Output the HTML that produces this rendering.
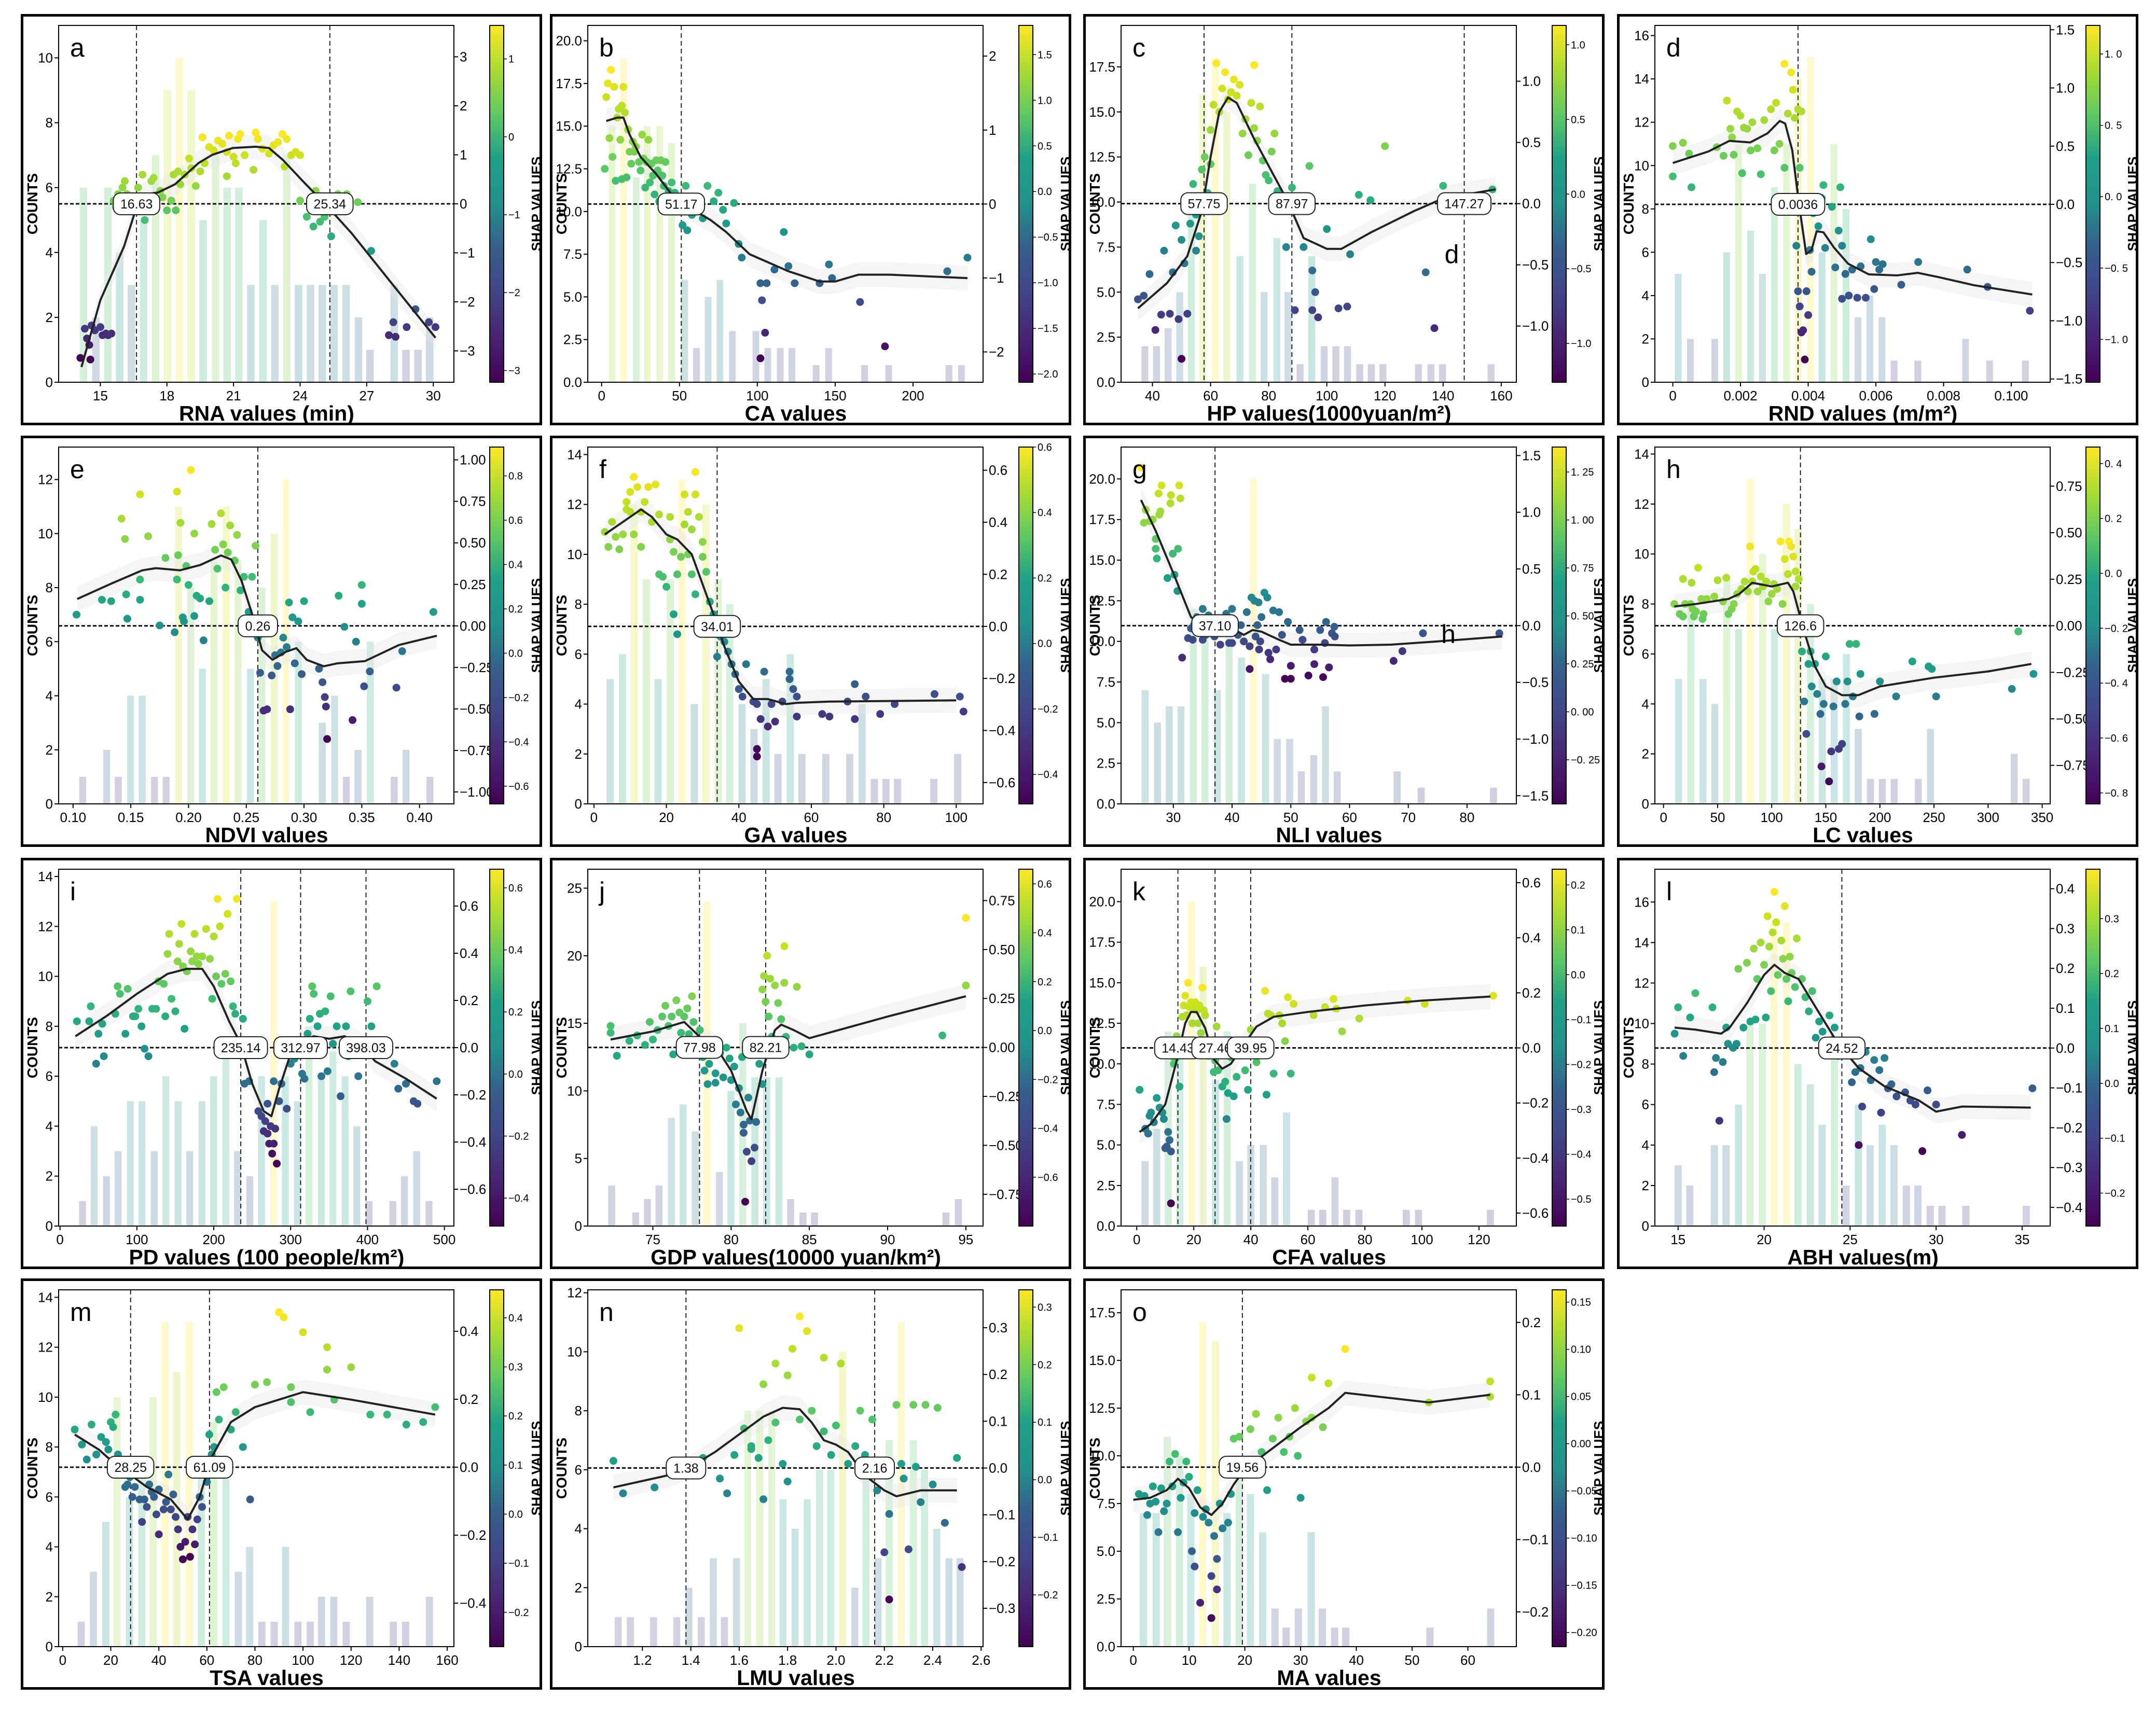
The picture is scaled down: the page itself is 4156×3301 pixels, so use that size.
<!DOCTYPE html>
<html><head><meta charset="utf-8">
<style>
html,body{margin:0;padding:0;background:#fff;}
svg{display:block;font-family:"Liberation Sans",sans-serif;}
</style></head>
<body>
<svg id="fig" width="4156" height="3301" viewBox="0 0 4156 3301" xmlns="http://www.w3.org/2000/svg">
<defs>
<linearGradient id="vir" x1="0" y1="1" x2="0" y2="0">
<stop offset="0" stop-color="#440154"/><stop offset="0.13" stop-color="#482475"/><stop offset="0.25" stop-color="#414487"/><stop offset="0.38" stop-color="#355f8d"/><stop offset="0.5" stop-color="#21918c"/><stop offset="0.63" stop-color="#1fa187"/><stop offset="0.75" stop-color="#5ec962"/><stop offset="0.88" stop-color="#addc30"/><stop offset="1" stop-color="#fde725"/>
</linearGradient>
</defs>
</svg>
<script>
// ---------- data (counts scale for bars; dependence points & loess curve on counts-scaled axis) ----------
const barsA=[[14.24,6],[14.8,2],[15.34,6],[15.87,4],[16.4,3],[16.95,5],[17.49,7],[18.02,9],[18.56,10],[19.09,9],[19.63,5],[20.19,7],[20.71,6],[21.24,6],[21.78,3],[22.33,5],[22.86,3],[23.4,7],[23.93,3],[24.47,3],[25.0,3],[25.53,3],[26.07,3],[26.63,2],[27.15,1],[28.24,3],[28.77,1],[29.31,1],[29.84,2]];
const curveA=[[14.15,0.47],[15,2.53],[16.07,4.19],[16.8,5.77],[17.6,5.85],[18.36,6.1],[19.43,6.76],[20.04,7.01],[20.96,7.22],[22.0,7.26],[22.6,7.22],[23.23,6.85],[24.15,6.18],[25.2,5.44],[26.3,4.61],[27.95,3.2],[30.1,1.37]];
const ptsA=[[14.1,0.75],[14.3,1.65],[14.4,1.35],[14.5,1.15],[14.6,1.75],[14.75,1.6],[14.55,0.7],[15.0,1.7],[15.1,1.45],[15.25,1.5],[15.35,1.45],[15.5,1.5],[15.6,5.6],[15.7,5.4],[15.8,5.8],[16.0,6.0],[16.1,6.2],[16.2,5.8],[16.7,6.0],[16.9,6.4],[17.0,5.0],[17.3,6.2],[17.4,6.3],[17.7,5.9],[17.8,5.7],[18.0,5.3],[18.2,5.6],[18.3,6.4],[18.5,6.5],[18.6,6.1],[18.8,6.4],[19.0,6.9],[19.1,6.6],[19.3,6.05],[18.4,5.3],[19.5,6.5],[19.7,6.75],[19.6,7.55],[19.9,7.25],[20.1,7.15],[20.3,7.45],[20.5,7.35],[20.7,7.1],[20.8,7.6],[20.7,6.35],[21.0,6.95],[21.2,7.5],[21.3,7.65],[21.1,6.75],[21.5,7.0],[21.9,6.55],[22.0,7.7],[22.1,7.5],[22.3,7.2],[22.6,7.05],[22.8,7.3],[23.0,7.4],[23.2,7.65],[23.3,6.65],[23.4,7.5],[23.6,7.0],[23.8,7.1],[24.0,7.0],[24.0,5.6],[24.3,5.1],[24.6,4.8],[24.7,5.9],[24.9,4.95],[25.1,5.1],[25.4,4.5],[25.7,5.8],[26.1,5.8],[26.1,5.3],[26.6,5.55],[27.2,4.05],[28.0,1.45],[28.2,1.85],[28.3,1.4],[28.8,1.7],[29.2,2.25],[29.8,1.85],[30.1,1.7]];
const thrA=[16.63,25.34];

const barsB=[[6.7,15],[14.2,19],[22.2,12],[29.3,15],[37.3,15],[44.9,14],[53.3,6],[60.9,2],[68.4,5],[76,6],[84,3],[99.1,3],[106.7,2],[114.7,2],[122.2,2],[137.8,1],[145.8,2],[168.9,1],[184.4,1],[223.1,1],[231.1,1]];
const curveB=[[3,15.3],[10,15.5],[14,15.5],[18,14.5],[25,13.2],[35,12.2],[45,11],[55,10.3],[70,9.5],[80,8.8],[95,7.5],[120,6.5],[140,5.9],[150,5.9],[165,6.3],[185,6.3],[235,6.1]];
const ptsB=[[2,12.5],[3,16.7],[4,17.5],[5,14.3],[6,18.3],[7,13.2],[8,17.3],[9,11.8],[10,15.5],[11,16],[12,14.2],[13,16.2],[14,17.3],[13,11.9],[15,15.8],[16,12.0],[17,14.8],[18,13.5],[19,12.8],[20,14.1],[21,13.5],[22,13.8],[24,12.9],[25,12.4],[26,14.5],[27,13.1],[28,11.4],[29,12.9],[30,14.2],[31,11.7],[32,12.8],[33,12.1],[34,11],[35,13],[36,12.4],[37,10.6],[38,13.0],[39,12.1],[40,11.5],[41,12.9],[43,11.2],[45,11.7],[47,11.1],[50,10.0],[52,9.2],[54,11.5],[55,8.9],[58,9.8],[60,10.8],[65,9.6],[68,11.5],[72,10.6],[75,11.1],[78,10.1],[80,9.3],[85,10.5],[88,8.1],[90,7.3],[102,5.8],[103,4.8],[106,5.8],[105,2.9],[102,1.4],[111,6.6],[117,8.8],[120,6.8],[124,5.8],[140,5.8],[146,6.9],[148,6.1],[166,4.7],[182,2.1],[222,6.5],[235,7.3]];
const thrB=[51.17];

const barsC=[[37.4,2],[41.4,2],[45.4,3],[49.4,5],[53.4,10],[57.4,16],[61.6,18],[65.6,15],[70.1,7],[74.4,11],[78.4,5],[82.8,8],[86.6,5],[90.8,1],[94.8,7],[99.1,2],[103.1,2],[107.1,2],[111.3,1],[115.3,1],[119.3,1],[131.5,1],[135.8,1],[139.8,1],[156.5,1]];
const curveC=[[35,4.1],[45,5.5],[52,7],[57,9.5],[60,12.5],[63,15],[66,15.8],[69,15.5],[75,13.5],[80,12],[85,10.5],[88,9.5],[92,8],[100,7.4],[105,7.4],[115,8.3],[130,9.5],[140,10.2],[158,10.7]];
const ptsC=[[35,4.6],[37,4.8],[39,6],[41,2.9],[43,3.75],[44,7.3],[46,3.8],[48,8.7],[47,6.1],[49,3.5],[50,1.3],[50,7.9],[51,6.6],[52,3.8],[53,8.8],[54,11],[55,9.3],[55,7.3],[56,8.1],[57,11.8],[58,12.5],[59,10.5],[60,12.1],[60,14],[61,15.4],[62,17.7],[63,15],[64,16.3],[65,17.2],[66,15.7],[67,16.1],[68,16.8],[69,15.9],[70,16.5],[71,13.8],[72,14.6],[73,12.6],[74,15.5],[75,14.1],[75,17.6],[76,13.4],[77,15.3],[78,12.3],[79,11.5],[80,11.2],[81,12.8],[82,13.8],[83,10.6],[85,9.8],[86,7.5],[88,10.8],[89,10.1],[89,4.0],[92,7.5],[95,6.2],[95,4.0],[96,5.0],[97,3.6],[100,8.5],[104,4.1],[107,4.2],[108,7.1],[111,10.4],[115,10.1],[120,13.1],[134,6.1],[137,3.0],[140,10.9],[157,10.7],[94,12.0]];
const thrC=[57.75,87.97,147.27];

const barsD=[[0.16,5],[0.52,2],[1.24,2],[1.59,6],[1.94,11],[2.3,7],[2.65,5],[3.0,9],[3.36,11],[3.71,14],[4.06,15],[4.41,6],[4.76,11],[5.12,8],[5.47,3],[5.82,4],[6.18,3],[6.54,1],[7.24,1],[8.65,2],[9.36,1],[10.42,1]];
const curveD=[[0,10.12],[1.05,10.65],[1.67,11.14],[2.29,11.07],[2.8,11.49],[3.16,12.06],[3.32,11.94],[3.53,10.7],[3.73,8.21],[3.94,5.92],[4.1,6.1],[4.25,6.97],[4.45,6.92],[4.76,6.22],[5.18,5.47],[5.79,4.98],[6.62,4.93],[7.24,5.05],[7.86,4.85],[8.89,4.48],[10.62,4.05]];
const ptsD=[[0,10.9],[0,9.5],[0.3,11.05],[0.55,9.0],[0.48,10.55],[1.3,10.85],[1.5,10.45],[1.6,13],[1.7,11.7],[1.75,11.3],[1.8,10.5],[1.9,12.5],[2.0,12.3],[2.05,9.65],[2.1,11.75],[2.2,11.7],[2.3,10.7],[2.35,12.0],[2.5,10.8],[2.6,9.6],[2.7,12.1],[2.9,12.6],[3.0,10.7],[3.05,12.9],[3.15,11],[3.3,14.7],[3.4,12.4],[3.3,9.9],[3.5,14.3],[3.55,13.5],[3.6,12.2],[3.7,12.6],[3.75,9.9],[3.8,12.5],[3.8,8.0],[3.65,6.3],[3.7,4.2],[3.75,3.5],[3.8,2.3],[3.85,2.4],[3.9,1.05],[3.95,4.2],[4.0,3.1],[4.05,6.1],[4.1,5.1],[4.15,7.8],[4.3,7.2],[4.4,8.5],[4.45,9.1],[4.5,6.2],[4.7,8.1],[4.8,5.3],[4.9,7.0],[4.95,9.0],[5.0,6.3],[5.0,3.85],[5.1,5.0],[5.2,4.0],[5.3,5.2],[5.45,3.9],[5.55,5.35],[5.7,3.9],[5.85,6.6],[6.0,5.55],[5.95,4.3],[6.1,5.2],[6.2,5.45],[6.75,4.5],[7.25,5.55],[8.7,5.2],[9.3,4.4],[10.55,3.3]];
const thrD=[3.7];

const barsE=[[0.1083,1],[0.1291,2],[0.1392,1],[0.1498,4],[0.1599,4],[0.1705,1],[0.1806,1],[0.1913,11],[0.2019,8],[0.212,5],[0.2221,9],[0.2328,11],[0.2429,9],[0.2535,5],[0.2636,8],[0.2743,10],[0.2844,12],[0.2951,6],[0.3158,3],[0.3265,4],[0.3366,1],[0.3467,2],[0.3574,6],[0.3781,1],[0.3883,2],[0.409,1]];
const curveE=[[0.1036,7.58],[0.1332,8.15],[0.1599,8.64],[0.1717,8.72],[0.1925,8.64],[0.2103,8.84],[0.2281,9.19],[0.237,9.04],[0.2459,8.25],[0.2548,7.06],[0.2637,5.68],[0.2727,5.33],[0.2845,5.63],[0.2934,5.76],[0.3023,5.33],[0.3171,5.09],[0.329,5.2],[0.3527,5.28],[0.3824,5.88],[0.415,6.22]];
const ptsE=[[0.103,7.0],[0.125,7.55],[0.133,7.5],[0.142,10.55],[0.145,9.8],[0.146,7.75],[0.147,6.85],[0.158,11.45],[0.158,8.3],[0.158,7.55],[0.165,9.9],[0.175,6.6],[0.18,9.1],[0.188,6.35],[0.19,8.3],[0.19,11.55],[0.191,9.2],[0.193,10.4],[0.195,6.9],[0.196,6.75],[0.198,8.8],[0.2,8.1],[0.202,12.35],[0.205,6.95],[0.205,10.0],[0.207,7.7],[0.21,7.6],[0.213,6.05],[0.218,7.5],[0.22,10.35],[0.223,9.4],[0.225,8.7],[0.228,10.75],[0.23,9.6],[0.232,8.0],[0.234,9.3],[0.236,10.3],[0.24,9.0],[0.242,9.95],[0.245,7.9],[0.248,8.4],[0.252,7.1],[0.255,8.4],[0.258,9.55],[0.26,6.15],[0.262,4.85],[0.265,3.45],[0.27,6.5],[0.272,4.75],[0.275,5.5],[0.277,5.1],[0.28,5.6],[0.282,6.15],[0.285,5.8],[0.287,7.45],[0.29,6.9],[0.292,5.2],[0.295,6.75],[0.298,4.8],[0.3,7.5],[0.313,5.0],[0.316,4.5],[0.318,3.95],[0.319,3.6],[0.32,2.4],[0.33,7.7],[0.335,6.55],[0.342,3.1],[0.345,6.0],[0.35,8.1],[0.35,7.4],[0.352,4.35],[0.357,4.9],[0.38,4.3],[0.385,5.65],[0.412,7.1],[0.288,3.5],[0.268,3.5]];
const thrE=[0.26];

const barsF=[[4.5,5],[7.9,6],[11.1,12],[14.5,9],[17.7,5],[21.1,9],[24.3,13],[27.7,4],[30.9,12],[34.3,9],[37.5,8],[40.9,4],[44.2,3],[47.5,5],[50.8,2],[54.2,6],[57.4,2],[64,2],[70.6,2],[74,4],[77.4,1],[80.6,1],[83.8,1],[93.8,1],[100.4,2]];
const curveF=[[3,10.8],[8,11.3],[13,11.8],[16,11.5],[20,10.8],[23,10.6],[27,10],[30,8.8],[33,7.6],[36,6.3],[40,4.9],[44,4.2],[48,4.2],[53,4.0],[56,4.05],[65,4.1],[100,4.15]];
const ptsF=[[3,10.9],[4,10.3],[5,11.3],[6,10.7],[7,10.2],[8,10.8],[9,11.8],[9,12.1],[10,12.5],[10,11.7],[11,10.8],[11,13.1],[12,12.7],[13,10.3],[13,11.7],[14,12.1],[15,12.7],[16,11.3],[17,12.8],[18,11.6],[18,9.2],[19,9.1],[20,8.7],[21,10.6],[21,11.5],[22,10.1],[22,7.6],[23,6.8],[23,9.2],[24,9.9],[25,11.2],[25,12.4],[26,11.7],[26,10.0],[27,9.2],[27,11.0],[28,8.4],[28,13.3],[28,12.4],[29,11.5],[30,10.5],[30,9.9],[31,9.3],[32,8.1],[33,7.6],[34,5.9],[35,6.7],[36,6.5],[37,6.1],[38,5.6],[39,5.2],[40,4.6],[41,4.3],[42,5.6],[44,4.1],[45,4.0],[46,3.4],[47,5.3],[48,3.1],[49,4.0],[50,3.3],[52,4.1],[54,5.0],[54,5.3],[55,4.6],[56,4.3],[56,3.5],[63,3.6],[65,3.5],[70,4.1],[72,3.4],[72,4.8],[75,4.3],[79,3.6],[83,4.0],[94,4.4],[101,4.3],[102,3.7],[45,1.9],[45,2.2]];
const thrF=[34.01];

const barsG=[[25.2,7],[27.3,5],[29.3,6],[31.3,6],[33.4,12],[35.4,12],[37.5,7],[39.5,12],[41.6,9],[43.6,20],[45.7,8],[47.7,4],[49.8,4],[51.8,2],[53.9,3],[55.9,6],[57.9,2],[68.1,2],[72.2,1],[84.5,1]];
const curveG=[[24.5,18.7],[27,16.8],[30,14.2],[33,11.5],[34,11.2],[37,11.1],[40,10.8],[42,10.4],[43.5,10.7],[45,10.6],[48,10.1],[50,9.8],[55,9.8],[60,9.75],[67,9.8],[75,10.0],[86,10.3]];
const ptsG=[[24.5,20.7],[25,17.3],[25.3,18.1],[26,17.4],[26.5,17.5],[27,16.3],[27,15.7],[27.2,15.1],[27.5,19.1],[27.6,17.8],[27.8,18.0],[28,19.6],[29,13.9],[29.5,18.5],[29.6,19.0],[29.9,15.4],[30.2,14.1],[30.7,13.1],[30.8,15.7],[31,19.6],[31.2,18.8],[31.5,9.0],[32.5,10.2],[33,10.8],[33.3,10.1],[33.5,11.0],[34,11.5],[34.5,11.2],[35,12.0],[35,10.1],[35.5,10.4],[36,11.6],[36.2,11.4],[37,10.3],[37.5,11.4],[38,11.1],[38,9.8],[39,11.7],[39.5,9.9],[40,9.9],[40,12.0],[41,10.4],[41.5,11.0],[42,10.0],[42.5,11.8],[43,9.7],[43,8.3],[43.3,12.7],[43.8,12.5],[44,10.3],[44.3,11.0],[44.5,12.4],[44.6,9.5],[44.8,10.0],[45,11.5],[45.5,13.0],[46,12.7],[46.2,9.3],[46.5,8.9],[47,11.9],[47.5,9.5],[48,11.8],[48.5,10.4],[49,7.7],[49.5,11.2],[50,8.5],[50,7.7],[51.5,10.7],[52,10.1],[53,7.9],[54,9.5],[54,8.6],[55,10.7],[55.5,7.8],[55.8,9.9],[56,11.2],[56.5,8.4],[57,10.5],[57.4,10.9],[57.5,10.3],[67.5,8.8],[69,9.4],[72.5,10.5],[85.5,10.5]];
const thrG=[37.10];

const barsH=[[13.9,5],[25.2,8],[36.5,5],[47.4,4],[58.4,9],[69.4,7],[80.3,13],[91.6,10],[102.6,7],[113.5,12],[124.5,11],[135.8,8],[146.8,5],[157.7,5],[169,6],[180,3],[191.3,1],[202.3,1],[213.2,1],[235.5,1],[246.8,3],[324.2,2],[335.2,1]];
const curveH=[[10,7.9],[30,8.0],[60,8.2],[70,8.4],[82,8.85],[100,8.7],[115,8.85],[120,8.5],[130,6.9],[140,5.5],[150,4.7],[165,4.35],[180,4.35],[200,4.7],[250,5.05],[300,5.3],[340,5.6]];
const ptsH=[[10,8.0],[15,7.6],[18,7.5],[20,8.0],[18,9.0],[25,8.0],[27,7.8],[28,7.5],[26,8.85],[30,7.7],[32,9.45],[35,8.2],[37,7.6],[36,7.4],[40,8.2],[47,8.3],[50,8.95],[55,8.1],[58,9.05],[60,7.6],[63,7.8],[65,8.0],[68,8.4],[72,8.6],[75,8.9],[78,8.5],[80,10.3],[82,8.9],[83,9.3],[85,9.4],[87,8.5],[90,9.1],[92,8.7],[95,8.9],[97,8.1],[100,8.4],[102,8.8],[105,8.6],[108,10.5],[110,8.0],[112,9.8],[115,9.2],[116,10.5],[118,10.3],[120,9.9],[122,9.3],[125,9.0],[122,8.7],[128,6.1],[130,4.1],[132,2.8],[134,5.6],[136,6.1],[137,4.7],[140,5.6],[142,4.4],[145,3.6],[146,1.5],[148,4.0],[150,5.9],[153,0.9],[155,2.1],[157,3.9],[160,4.9],[162,2.2],[165,2.4],[168,4.0],[170,4.9],[172,6.4],[175,4.3],[178,6.4],[181,3.5],[182,5.2],[195,3.6],[200,4.9],[215,4.3],[230,5.7],[245,5.5],[248,5.4],[252,4.3],[322,4.6],[328,6.9],[342,5.2]];
const thrH=[126.6];

const barsI=[[29.3,1],[44.4,4],[60.4,2],[75.5,3],[91.5,5],[106.6,5],[122.6,3],[137.7,6],[153.6,5],[168.7,3],[184.7,5],[199.8,6],[215.8,7],[230.9,3],[246.9,2],[262,6],[278,13],[293,6],[309,5],[324,8],[340,6],[355,7],[371,6],[386,4],[402,1],[433,1],[448,2],[464,3],[480,1]];
const curveI=[[20,7.6],[60,8.4],[100,9.3],[140,10.1],[165,10.3],[185,10.3],[200,9.6],[220,8.2],[235,7.3],[250,5.7],[265,4.6],[275,4.4],[285,5.5],[300,6.9],[315,7.4],[330,7.6],[350,7.5],[370,7.6],[390,7.3],[410,6.6],[450,5.9],[490,5.1]];
const ptsI=[[22,8.2],[38,8.2],[40,8.8],[47,6.5],[50,7.7],[55,8.1],[57,6.8],[72,8.5],[75,9.6],[78,9.3],[85,7.7],[88,9.5],[95,8.4],[98,8.4],[102,8.7],[106,8.0],[110,7.1],[115,6.8],[120,8.7],[125,8.7],[128,9.8],[135,9.7],[137,8.4],[140,10.9],[142,11.7],[145,9.1],[150,8.6],[153,10.6],[155,11.3],[158,12.1],[160,10.4],[162,7.9],[165,10.2],[170,11.0],[172,10.6],[175,11.7],[178,10.8],[180,10.5],[185,10.8],[190,11.9],[195,10.7],[198,9.1],[200,11.6],[203,10.0],[205,13.1],[208,12.0],[210,9.7],[215,10.1],[218,12.5],[222,9.8],[225,8.8],[228,8.5],[230,13.1],[232,7.3],[238,8.3],[240,5.7],[246,5.8],[258,4.6],[262,4.4],[265,3.8],[267,4.2],[270,3.7],[272,3.3],[274,4.0],[276,2.9],[278,3.3],[280,3.9],[282,2.5],[270,4.9],[278,5.8],[285,5.0],[288,5.7],[295,4.7],[300,6.5],[305,6.7],[315,6.1],[318,5.9],[322,7.7],[325,8.3],[328,9.6],[330,9.3],[335,8.0],[338,8.5],[340,6.0],[345,8.6],[348,6.2],[352,9.2],[355,7.3],[360,8.0],[365,5.2],[368,7.0],[372,8.0],[375,6.8],[378,9.4],[388,6.0],[400,9.0],[405,8.0],[412,9.6],[435,6.5],[440,5.5],[450,5.7],[460,5.0],[465,4.9],[490,5.8]];
const thrI=[235.14,312.97,398.03];

const barsJ=[[72.37,3],[73.9,1],[74.65,2],[75.39,3],[76.18,8],[76.93,9],[77.71,7],[78.46,24],[79.25,4],[79.99,10],[80.74,15],[81.52,11],[82.27,11],[83.06,11],[83.8,2],[84.59,1],[85.33,1],[93.73,1],[94.52,2]];
const curveJ=[[72.3,13.8],[75,14.4],[77,15.1],[78,14.0],[79,13.3],[80,11.5],[81,8.5],[81.3,7.9],[82,11.5],[82.8,14.5],[83.2,14.9],[84,14.5],[85,13.9],[90,15.5],[95,17.0]];
const ptsJ=[[72.3,14.3],[72.3,14.8],[72.7,12.6],[73.5,13.7],[74,14.1],[74.5,13.4],[74.8,15.1],[75,13.8],[75.3,14.5],[75.6,15.5],[75.8,16.3],[76,14.8],[76.2,15.5],[76.3,12.7],[76.5,16.7],[76.7,15.8],[76.8,14.3],[77,15.5],[77.2,16.1],[77.3,14.2],[77.5,17.0],[77.6,15.1],[77.8,13.8],[78,14.5],[78.2,12.5],[78.3,11.5],[78.5,10.5],[78.6,12.0],[78.8,13.6],[79,10.6],[79,11.3],[79.3,12.8],[79.5,11.0],[79.7,13.2],[79.9,12.4],[80,10.8],[80.2,11.8],[80.3,9.0],[80.5,10.2],[80.6,8.4],[80.7,12.5],[80.8,7.5],[80.8,6.9],[80.9,1.8],[81,5.5],[81.1,9.5],[81.2,7.8],[81.3,4.8],[81.5,5.8],[81.6,7.7],[81.8,12.0],[82,10.5],[82,17.5],[82.1,18.5],[82.2,16.6],[82.3,20.0],[82.4,15.5],[82.5,18.3],[82.6,14.0],[82.8,17.8],[83,16.5],[83.2,15.3],[83.4,20.7],[83.4,18.0],[83.5,14.0],[84,13.2],[84.2,17.7],[84.5,13.3],[85,12.7],[93.5,14.1],[95,17.8],[95,22.8]];
const thrJ=[77.98,82.21];

const barsK=[[2.9,4],[7,6],[11,12],[15.1,11],[19.2,20],[23.3,16],[27.6,9],[31.7,12],[36,4],[40,5],[44.4,5],[48.4,3],[52.5,7],[61.2,1],[65.2,1],[69.5,3],[73.6,1],[77.9,1],[94.5,1],[98.8,1],[124,1]];
const curveK=[[1,5.8],[5,6.3],[10,7.5],[14,10.2],[17,12.5],[19,13.2],[21,13.2],[24,12.2],[27,10.3],[30,9.7],[33,10],[38,11.3],[42,12.3],[48,12.9],[60,13.2],[80,13.6],[100,13.9],[124,14.15]];
const ptsK=[[1,8.4],[3,6.0],[4,5.7],[4.5,6.8],[5,7.0],[6,6.4],[7,7.9],[8,7.3],[9,7.0],[9.5,6.6],[10,4.8],[10.5,4.9],[11,5.8],[11.5,5.3],[12,4.6],[12,1.4],[13,10.0],[13.5,10.3],[14,11.7],[15,8.6],[16,12.9],[16.5,13.6],[17,14.2],[17.5,13.0],[18,15.0],[18.5,13.5],[19,13.8],[19.5,12.5],[20,13.4],[20.5,13.8],[21,13.3],[21.5,12.5],[22,13.6],[22.5,11.9],[23,14.7],[23.5,13.3],[24,13.0],[24.5,11.3],[25,10.5],[26,10.8],[27,9.5],[27.5,10.2],[28,12.3],[28.5,9.6],[29,10.6],[30,8.6],[31,8.9],[31.5,6.6],[32,8.2],[33,10.4],[34,8.0],[35,9.2],[38,9.6],[39,8.4],[40,12.1],[42,10.1],[45,14.5],[45.5,8.1],[46,13.1],[47,13.0],[48,9.4],[50,13.0],[51,12.5],[52,11.4],[53,14.1],[54,9.4],[55,13.7],[62,13.0],[66,13.5],[69,14.0],[70,13.4],[72,12.0],[78,12.8],[95,13.9],[101,13.7],[125,14.2]];
const thrK=[14.43,27.46,39.95];

const barsL=[[15,3],[15.68,2],[17.11,4],[17.79,4],[18.51,6],[19.18,10],[19.9,10],[20.58,15],[21.3,15],[21.97,8],[22.69,7],[23.37,5],[24.09,9],[24.76,2],[25.48,6],[26.16,4],[26.87,5],[27.55,4],[28.27,2],[28.94,2],[29.66,1],[30.34,1],[31.73,1],[35.24,1]];
const curveL=[[14.8,9.8],[16,9.7],[17.5,9.5],[18,9.8],[19,11],[20,12.4],[20.6,12.9],[21.2,12.5],[22,12.2],[23,10.8],[24.3,9],[25.5,7.8],[27,6.9],[29,6.2],[30,5.65],[31.5,5.9],[35.5,5.85]];
const ptsL=[[14.8,9.5],[15,10.8],[15.3,8.4],[15.7,10.3],[16,11.5],[17,10.8],[17.1,7.6],[17.2,8.3],[17.6,8.1],[17.8,9.8],[17.9,9.0],[18.2,8.8],[18.4,9.0],[18.5,12.7],[18.8,9.8],[19.0,13.0],[19.2,10.1],[19.4,13.7],[19.5,10.2],[19.6,12.2],[19.8,14.0],[20.0,12.9],[20.1,10.3],[20.2,15.3],[20.3,13.8],[20.4,11.6],[20.5,14.5],[20.6,16.5],[20.7,15.0],[20.8,12.4],[21.0,14.1],[21.1,13.2],[21.2,15.8],[21.3,12.2],[21.4,11.1],[21.5,13.3],[21.6,12.5],[21.8,11.8],[21.9,14.2],[22.2,12.2],[22.4,11.3],[22.6,10.6],[22.8,11.6],[23.0,9.3],[23.2,10.1],[23.4,9.6],[23.5,8.9],[23.8,10.4],[24.0,9.2],[24.1,9.8],[24.3,8.4],[25.1,7.1],[25.3,7.6],[25.6,7.8],[25.9,8.6],[26.2,7.2],[26.4,8.2],[26.7,7.7],[27.0,8.3],[27.2,6.8],[27.4,7.0],[27.7,6.4],[28.2,6.6],[28.5,6.2],[28.8,6.0],[29.5,6.7],[30,6.0],[31.5,4.5],[29.2,3.7],[25.5,4.0],[17.4,5.2],[35.6,6.8],[25.7,5.9],[26.8,5.6]];
const thrL=[24.52];

const barsM=[[7.7,1],[12.8,3],[17.9,5],[22.6,10],[27.8,6],[32.9,7],[37.6,10],[42.7,13],[47.4,11],[52.6,13],[57.7,7],[62.8,9],[67.9,7],[73.1,3],[77.8,4],[82.9,1],[88,1],[92.7,4],[97.9,1],[103,1],[107.7,2],[112.8,2],[118,1],[127.8,2],[137.6,1],[142.7,1],[152.6,2]];
const curveM=[[5,8.5],[15,7.9],[22,7.3],[28,6.9],[35,6.4],[45,5.9],[52,5.1],[57,6.0],[62,7.6],[70,9],[80,9.6],[100,10.2],[120,9.9],[155,9.3]];
const ptsM=[[5,8.7],[8,8.1],[10,7.5],[12,8.9],[14,7.7],[16,8.4],[18,8.2],[19,7.9],[20,9.0],[21,8.8],[22,9.3],[23,7.7],[25,7.3],[26,6.4],[27,6.5],[28,6.8],[29,6.0],[30,6.4],[31,7.0],[32,5.9],[33,5.0],[34,5.9],[35,5.6],[36,6.5],[37,6.2],[38,6.0],[39,5.3],[40,4.5],[40,6.3],[42,5.5],[43,5.8],[44,6.9],[45,5.5],[46,6.1],[47,5.2],[48,4.7],[49,4.0],[50,3.5],[51,4.2],[52,5.2],[53,3.6],[54,4.7],[55,4.1],[56,5.1],[57,6.0],[58,5.6],[59,6.9],[60,6.6],[61,8.5],[62,7.7],[63,8.0],[64,10.2],[65,9.1],[67,10.4],[70,8.7],[72,9.4],[75,8.0],[78,5.9],[80,10.5],[85,10.6],[90,13.4],[92,13.2],[95,9.8],[95,10.4],[100,12.6],[103,9.4],[110,12.0],[110,11.1],[113,9.9],[120,11.2],[128,9.3],[135,9.3],[143,8.9],[150,9.0],[155,9.6]];
const thrM=[28.25,61.09];

const barsN=[[1.1,1],[1.15,1],[1.246,1],[1.342,1],[1.392,2],[1.443,1],[1.493,3],[1.539,1],[1.589,3],[1.635,8],[1.685,8],[1.735,8],[1.781,5],[1.831,4],[1.881,5],[1.932,6],[1.978,6],[2.028,10],[2.078,2],[2.124,6],[2.174,3],[2.22,7],[2.27,11],[2.32,7],[2.366,6],[2.417,4],[2.467,3],[2.513,3]];
const curveN=[[1.08,5.4],[1.3,5.8],[1.4,6.1],[1.5,6.6],[1.6,7.2],[1.7,7.8],[1.78,8.1],[1.85,8.05],[1.9,7.6],[1.95,7.0],[2.0,6.85],[2.05,6.6],[2.12,5.8],[2.2,5.3],[2.25,5.1],[2.35,5.3],[2.5,5.3]];
const ptsN=[[1.08,6.3],[1.12,5.2],[1.25,5.4],[1.35,6.3],[1.38,5.9],[1.42,6.0],[1.45,6.4],[1.52,5.7],[1.55,5.2],[1.58,6.5],[1.6,10.8],[1.62,7.4],[1.65,6.7],[1.68,6.4],[1.7,5.0],[1.72,7.0],[1.75,7.6],[1.78,6.2],[1.8,5.6],[1.8,9.2],[1.82,10.1],[1.85,11.2],[1.85,7.7],[1.88,10.7],[1.9,8.0],[1.92,6.8],[1.95,9.8],[1.95,7.3],[1.98,6.5],[2.0,7.5],[2.02,9.6],[2.05,6.2],[2.08,6.8],[2.1,8.0],[2.12,6.5],[2.15,7.7],[2.17,5.3],[2.2,3.2],[2.22,1.6],[2.22,4.5],[2.25,8.2],[2.27,6.2],[2.28,5.7],[2.3,3.3],[2.32,8.2],[2.33,6.1],[2.35,4.9],[2.37,8.2],[2.4,5.5],[2.42,8.1],[2.45,4.2],[2.5,6.4],[2.52,2.7],[1.65,6.8],[1.7,8.9],[1.75,9.6]];
const thrN=[1.38,2.16];

const barsO=[[1.8,7],[4.1,7],[6.1,11],[8.3,10],[10.3,8],[12.5,17],[14.7,16],[16.8,7],[19.0,10],[21.0,8],[23.2,6],[25.4,2],[27.4,1],[29.6,2],[31.9,6],[33.9,2],[36.1,1],[38.1,1],[53.2,1],[64.1,2]];
const curveO=[[0,7.7],[3,7.8],[6,8.2],[8,8.8],[10,8.3],[12,7.3],[14,6.9],[16,7.5],[18,8.5],[20,9.3],[25,10.4],[30,11.5],[35,12.5],[38,13.3],[53,12.8],[64,13.2]];
const ptsO=[[1,8.0],[2,7.9],[2.5,6.9],[3,7.5],[3.5,8.4],[4,7.6],[4.5,6.0],[5,8.3],[5.5,7.1],[6,7.5],[6.5,9.7],[7,8.4],[7.5,10.1],[8,6.0],[8.5,7.8],[9,8.6],[9.5,9.7],[10,8.9],[10.5,5.0],[11,7.0],[11,4.2],[11.5,8.2],[12,2.3],[12.5,6.8],[13,7.2],[13.5,6.5],[14,1.5],[14,3.7],[14.5,5.8],[15,3.0],[15,4.6],[15.5,7.5],[16,6.2],[17,6.5],[17.5,8.0],[18,10.9],[18.5,9.6],[19,11.0],[20,9.5],[21,11.4],[22,12.2],[23,10.2],[24,8.2],[25,10.9],[26,12.0],[27,10.2],[28,11.0],[29,12.5],[29.5,10.0],[30,7.8],[31,11.8],[32,12.0],[32,14.1],[34,11.5],[35,13.8],[38,15.6],[53,12.8],[64,13.1],[64,13.9]];
const thrO=[19.56];

// ---------- tick arrays ----------
const ticksLeft={a:[0,2,4,6,8,10],b:[0,2.5,5,7.5,10,12.5,15,17.5,20],c:[0,2.5,5,7.5,10,12.5,15,17.5],d:[0,2,4,6,8,10,12,14,16],e:[0,2,4,6,8,10,12],f:[0,2,4,6,8,10,12,14],g:[0,2.5,5,7.5,10,12.5,15,17.5,20],h:[0,2,4,6,8,10,12,14],i:[0,2,4,6,8,10,12,14],j:[0,5,10,15,20,25],k:[0,2.5,5,7.5,10,12.5,15,17.5,20],l:[0,2,4,6,8,10,12,14,16],m:[0,2,4,6,8,10,12,14],n:[0,2,4,6,8,10,12],o:[0,2.5,5,7.5,10,12.5,15,17.5]};
const ticksBottom={a:[15,18,21,24,27,30],b:[0,50,100,150,200],c:[40,60,80,100,120,140,160],d:[0,2,4,6,8,10],e:[0.1,0.15,0.2,0.25,0.3,0.35,0.4],f:[0,20,40,60,80,100],g:[30,40,50,60,70,80],h:[0,50,100,150,200,250,300,350],i:[0,100,200,300,400,500],j:[75,80,85,90,95],k:[0,20,40,60,80,100,120],l:[15,20,25,30,35],m:[0,20,40,60,80,100,120,140,160],n:[1.2,1.4,1.6,1.8,2.0,2.2,2.4,2.6],o:[0,10,20,30,40,50,60]};
const bottomLabelsD=["0","0.002","0.004","0.006","0.008","0.100"];
const ticksRight={a:[-3,-2,-1,0,1,2,3],b:[-2,-1,0,1,2],c:[-1,-0.5,0,0.5,1],d:[-1.5,-1,-0.5,0,0.5,1,1.5],e:[-1,-0.75,-0.5,-0.25,0,0.25,0.5,0.75,1],f:[-0.6,-0.4,-0.2,0,0.2,0.4,0.6],g:[-1.5,-1,-0.5,0,0.5,1,1.5],h:[-0.75,-0.5,-0.25,0,0.25,0.5,0.75],i:[-0.6,-0.4,-0.2,0,0.2,0.4,0.6],j:[-0.75,-0.5,-0.25,0,0.25,0.5,0.75],k:[-0.6,-0.4,-0.2,0,0.2,0.4,0.6],l:[-0.4,-0.3,-0.2,-0.1,0,0.1,0.2,0.3,0.4],m:[-0.4,-0.2,0,0.2,0.4],n:[-0.3,-0.2,-0.1,0,0.1,0.2,0.3],o:[-0.2,-0.1,0,0.1,0.2]};
const ticksColor={a:[-3,-2,-1,0,1],b:[-2,-1.5,-1,-0.5,0,0.5,1,1.5],c:[-1,-0.5,0,0.5,1],d:[-1,-0.5,0,0.5,1],e:[-0.6,-0.4,-0.2,0,0.2,0.4,0.6,0.8],f:[-0.4,-0.2,0,0.2,0.4,0.6],g:[-0.25,0,0.25,0.5,0.75,1,1.25],h:[-0.8,-0.6,-0.4,-0.2,0,0.2,0.4],i:[-0.4,-0.2,0,0.2,0.4,0.6],j:[-0.6,-0.4,-0.2,0,0.2,0.4,0.6],k:[-0.5,-0.4,-0.3,-0.2,-0.1,0,0.1,0.2],l:[-0.2,-0.1,0,0.1,0.2,0.3],m:[-0.2,-0.1,0,0.1,0.2,0.3,0.4],n:[-0.2,-0.1,0,0.1,0.2,0.3],o:[-0.2,-0.15,-0.1,-0.05,0,0.05,0.1,0.15]};

// ---------- panel configs (layout / axis ranges) ----------
const panels=[
{id:'a',col:0,row:0,xl:"RNA values (min)",x:[13.12,30.93],y:11,r:[-3.64,3.64],c:[-3.15,1.43],bw:0.34,bars:barsA,curve:curveA,pts:ptsA,thr:thrA,thrL:["16.63","25.34"],ld:0,rd:0,cd:0},
{id:'b',col:1,row:0,xl:"CA values",x:[-8.9,245],y:20.9,r:[-2.41,2.415],c:[-2.09,1.82],bw:4.3,bars:barsB,curve:curveB,pts:ptsB,thr:thrB,thrL:["51.17"],ld:1,rd:0,cd:1},
{id:'c',col:2,row:0,xl:"HP values(1000yuan/m²)",x:[29.2,165.2],y:19.8,r:[-1.459,1.456],c:[-1.26,1.13],bw:2.4,bars:barsC,curve:curveC,pts:ptsC,thr:thrC,thrL:["57.75","87.97","147.27"],ld:1,rd:1,cd:1,extra:[140.5,6.6,'d']},
{id:'d',col:3,row:0,xl:"RND values (m/m²)",x:[-0.53,11.15],y:16.47,r:[-1.528,1.537],c:[-1.3,1.2],bw:0.2,bars:barsD,curve:curveD,pts:ptsD,thr:thrD,thrL:["0.0036"],ld:0,rd:1,cd:1,cs:true},
{id:'e',col:0,row:1,xl:"NDVI values",x:[0.0875,0.4298],y:13.2,r:[-1.072,1.077],c:[-0.68,0.93],bw:0.006,bars:barsE,curve:curveE,pts:ptsE,thr:thrE,thrL:["0.26"],ld:0,rd:2,cd:1,bd:2},
{id:'f',col:1,row:1,xl:"GA values",x:[-1.7,107.4],y:14.3,r:[-0.682,0.689],c:[-0.49,0.6],bw:2,bars:barsF,curve:curveF,pts:ptsF,thr:thrF,thrL:["34.01"],ld:0,rd:1,cd:1},
{id:'g',col:2,row:1,xl:"NLI values",x:[21.1,88.4],y:21.96,r:[-1.572,1.575],c:[-0.48,1.38],bw:1.2,bars:barsG,curve:curveG,pts:ptsG,thr:thrG,thrL:["37.10"],ld:1,rd:1,cd:2,cs:true,extra:[75.6,9.9,'h']},
{id:'h',col:3,row:1,xl:"LC values",x:[-8,357.4],y:14.28,r:[-0.957,0.96],c:[-0.84,0.46],bw:6.5,bars:barsH,curve:curveH,pts:ptsH,thr:thrH,thrL:["126.6"],ld:0,rd:2,cd:1,cs:true},
{id:'i',col:0,row:2,xl:"PD values (100 people/km²)",x:[-1.8,512.4],y:14.29,r:[-0.756,0.756],c:[-0.49,0.66],bw:9,bars:barsI,curve:curveI,pts:ptsI,thr:thrI,thrL:["235.14","312.97","398.03"],ld:0,rd:1,cd:1},
{id:'j',col:1,row:2,xl:"GDP values(10000 yuan/km²)",x:[70.84,96.1],y:26.4,r:[-0.912,0.91],c:[-0.8,0.66],bw:0.45,bars:barsJ,curve:curveJ,pts:ptsJ,thr:thrJ,thrL:["77.98","82.21"],ld:0,rd:2,cd:1},
{id:'k',col:2,row:2,xl:"CFA values",x:[-5.5,133.1],y:22.0,r:[-0.647,0.649],c:[-0.56,0.235],bw:2.5,bars:barsK,curve:curveK,pts:ptsK,thr:thrK,thrL:["14.43","27.46","39.95"],ld:1,rd:1,cd:1},
{id:'l',col:3,row:2,xl:"ABH values(m)",x:[13.65,36.63],y:17.62,r:[-0.447,0.449],c:[-0.26,0.39],bw:0.42,bars:barsL,curve:curveL,pts:ptsL,thr:thrL,thrL:["24.52"],ld:0,rd:1,cd:1},
{id:'m',col:0,row:3,xl:"TSA values",x:[-1.7,162.8],y:14.3,r:[-0.528,0.522],c:[-0.27,0.457],bw:3,bars:barsM,curve:curveM,pts:ptsM,thr:thrM,thrL:["28.25","61.09"],ld:0,rd:1,cd:1},
{id:'n',col:1,row:3,xl:"LMU values",x:[0.974,2.608],y:12.1,r:[-0.382,0.381],c:[-0.29,0.33],bw:0.029,bars:barsN,curve:curveN,pts:ptsN,thr:thrN,thrL:["1.38","2.16"],ld:0,rd:1,cd:1,bd:1},
{id:'o',col:2,row:3,xl:"MA values",x:[-2.2,68.7],y:18.7,r:[-0.248,0.245],c:[-0.215,0.163],bw:1.3,bars:barsO,curve:curveO,pts:ptsO,thr:thrO,thrL:["19.56"],ld:1,rd:1,cd:2}
];

const COLX=[40,1060,2088,3117], ROWY=[27,840,1654,2465], PWID=1005, PHGT=793;
const PL=73, PT=22, PWD=762, PHT=688, CBX=904, CBW=27;
const NS='http://www.w3.org/2000/svg';
const svg=document.getElementById('fig');

const VIR=[[68,1,84],[72,36,117],[65,68,135],[53,95,141],[42,120,142],[33,145,140],[31,161,135],[53,183,121],[94,201,98],[142,214,69],[173,220,48],[210,226,27],[253,231,37]];
function viridis(t){t=Math.max(0,Math.min(1,t));const f=t*(VIR.length-1),i=Math.min(VIR.length-2,Math.floor(f)),u=f-i;const a=VIR[i],b=VIR[i+1];return 'rgb('+[0,1,2].map(k=>Math.round(a[k]+(b[k]-a[k])*u)).join(',')+')';}
function el(tag,attrs,parent,text){const e=document.createElementNS(NS,tag);for(const k in attrs)e.setAttribute(k,attrs[k]);if(text!==undefined)e.textContent=text;parent.appendChild(e);return e;}
function fmt(v,d){const s=v.toFixed(d);return (v<0?'\u2212'+s.slice(1):s);}

panels.forEach(p=>{
  const ox=COLX[p.col], oy=ROWY[p.row];
  const g=el('g',{transform:'translate('+ox+','+oy+')'},svg);
  
  
  const frame=el('rect',{x:2.5,y:2.5,width:PWID-5,height:PHGT-5,fill:'#fff',stroke:'#000','stroke-width':5},g);
  
  
  const X0=PL, Y0=PT, X1=PL+PWD, Y1=PT+PHT;
  const sx=v=>X0+(v-p.x[0])/(p.x[1]-p.x[0])*PWD;
  const sy=v=>Y1-v/p.y*PHT;
  const ry=s=>Y1-(s-p.r[0])/(p.r[1]-p.r[0])*PHT;
  const toShap=c=>p.r[0]+c/p.y*(p.r[1]-p.r[0]);
  const col=c=>viridis((toShap(c)-p.c[0])/(p.c[1]-p.c[0]));
  const zeroY=ry(0);
  const maxCount=Math.max(...p.bars.map(b=>b[1]));
  // bars
  const bg=el('g',{},g);
  
  
  p.bars.forEach(b=>{
    const x1=sx(b[0]-p.bw/2), x2=sx(b[0]+p.bw/2);
    const r=el('rect',{x:x1,y:sy(b[1]),width:x2-x1,height:Y1-sy(b[1]),fill:viridis(0.08+0.92*b[1]/maxCount),opacity:0.24},bg);
    
    
  });
  // confidence band
  const up=p.curve.map(c=>sx(c[0])+','+sy(c[1]+p.y*0.035)).join(' ');
  const dn=p.curve.slice().reverse().map(c=>sx(c[0])+','+sy(c[1]-p.y*0.035)).join(' ');
  const band=el('polygon',{points:up+' '+dn,fill:'#e6e6e6',opacity:0.4},g);
  
  
  // zero line
  const zl=el('line',{x1:X0,x2:X1,y1:zeroY,y2:zeroY,stroke:'#111','stroke-width':3,'stroke-dasharray':'7 4'},g);
  
  
  // thresholds
  p.thr.forEach((t,i)=>{
    const l=el('line',{x1:sx(t),x2:sx(t),y1:Y0,y2:Y1,stroke:'#222','stroke-width':2,'stroke-dasharray':'9 6'},g);
    
    
  });
  // points
  const pg=el('g',{},g);
  
  
  p.pts.forEach(q=>{
    const c=el('circle',{cx:sx(q[0]),cy:sy(q[1]),r:7.5,fill:col(q[1])},pg);
    
    
  });
  // curve
  const path=el('polyline',{points:p.curve.map(c=>sx(c[0])+','+sy(c[1])).join(' '),fill:'none',stroke:'#222','stroke-width':4,'stroke-linejoin':'round'},g);
  
  
  // threshold labels
  p.thr.forEach((t,i)=>{
    const txt=p.thrL[i], w=txt.length*13.5+22;
    const lb=el('rect',{x:sx(t)-w/2,y:zeroY-21,width:w,height:42,rx:14,fill:'#fff',stroke:'#222','stroke-width':2},g);
    
    
    const tt=el('text',{x:sx(t),y:zeroY+9,'font-size':25,'text-anchor':'middle',fill:'#111'},g,txt);
    
    
  });
  // plot frame
  const pf=el('rect',{x:X0,y:Y0,width:PWD,height:PHT,fill:'none',stroke:'#000','stroke-width':2},g);
  
  
  ticksLeft[p.id].forEach(v=>{
    const y=sy(v);
    el('line',{x1:X0-8,x2:X0,y1:y,y2:y,stroke:'#000','stroke-width':2},g);
    const t=el('text',{x:X0-11,y:y+9,'font-size':26,'text-anchor':'end'},g,v.toFixed(p.ld));
    
    
  });
  ticksBottom[p.id].forEach((v,i)=>{
    const x=sx(v);
    el('line',{x1:x,x2:x,y1:Y1,y2:Y1+8,stroke:'#000','stroke-width':2},g);
    const lab=p.id==='d'?bottomLabelsD[i]:v.toFixed(p.bd||0);
    const t=el('text',{x:x,y:Y1+35,'font-size':26,'text-anchor':'middle'},g,lab);
    
    
  });
  ticksRight[p.id].forEach(v=>{
    const y=ry(v);
    el('line',{x1:X1,x2:X1+8,y1:y,y2:y,stroke:'#000','stroke-width':2},g);
    const t=el('text',{x:X1+11,y:y+9,'font-size':26},g,fmt(v,p.rd));
    
    
  });
  const cb=el('rect',{x:CBX,y:Y0,width:CBW,height:PHT,fill:'url(#vir)',stroke:'#000','stroke-width':2},g);
  
  
  ticksColor[p.id].forEach(v=>{
    const y=Y1-(v-p.c[0])/(p.c[1]-p.c[0])*PHT;
    el('line',{x1:CBX+CBW,x2:CBX+CBW+6,y1:y,y2:y,stroke:'#000','stroke-width':1.5},g);
    let s=fmt(v,p.cd); if(p.cs) s=s.replace('.', '. ');
    const t=el('text',{x:CBX+CBW+9,y:y+7,'font-size':20},g,s);
    
    
  });
  const sv=el('text',{x:0,y:0,'font-size':26,'font-weight':'bold','text-anchor':'middle',transform:'translate('+(CBX+CBW+72)+','+(Y0+PHT/2)+') rotate(-90)'},g,'SHAP VALUES');
  
  
  const cn=el('text',{x:0,y:0,'font-size':28,'font-weight':'bold','text-anchor':'middle',transform:'translate(32,'+(Y0+PHT/2)+') rotate(-90)'},g,'COUNTS');
  
  
  const xt=el('text',{x:X0+PWD/2+20,y:784,'font-size':41,'font-weight':'bold','text-anchor':'middle'},g,p.xl);
  
  
  const lt=el('text',{x:X0+22,y:Y0+60,'font-size':50},g,p.id);
  
  
  if(p.extra){
    const ex=el('text',{x:sx(p.extra[0]),y:sy(p.extra[1]),'font-size':50},g,p.extra[2]);
    
    
  }
});
</script>
</body></html>
